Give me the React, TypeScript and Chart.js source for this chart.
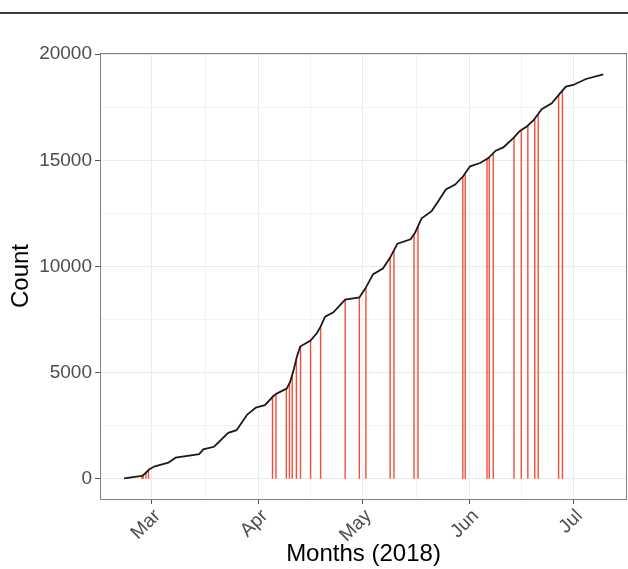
import React, { useEffect, useRef } from 'react';
import { Chart, registerables } from 'chart.js';

Chart.register(...registerables);

// x values are days counted from 1 March 2018 (day 0 = Mar 1)
const curveDays = [
  -7.9, -2.8, -2.05, -0.6, 1.0, 4.9, 7.0, 13.8, 15.0, 18.1, 22.2, 24.6, 27.7, 30.2, 32.8,
  35.2, 36.2, 39.1, 40.1, 41.2, 42.0, 43.0, 46.0, 47.8, 48.9, 50.2, 52.6, 56.0, 60.1, 61.9,
  64.1, 66.9, 69.0, 71.1, 74.9, 76.2, 78.1, 81.0, 82.9, 85.1, 87.8, 90.1, 92.1, 95.0, 97.4,
  99.5, 101.7, 104.6, 106.5, 108.5, 110.4, 112.8, 115.7, 118.1, 119.8, 121.9, 125.6, 130.6,
];
const curveCounts = [
  20, 131, 211, 446, 586, 755, 990, 1163, 1384, 1506, 2162, 2289, 3025, 3354, 3462,
  3884, 4011, 4245, 4555, 5183, 5727, 6229, 6510, 6852, 7167, 7636, 7837, 8433, 8541, 8982,
  9638, 9901, 10417, 11073, 11280, 11590, 12265, 12607, 13076, 13625, 13859, 14248, 14717, 14872, 15106,
  15453, 15608, 16044, 16382, 16593, 16875, 17405, 17686, 18155, 18469, 18549, 18830, 19046,
];

// red event markers
const eventDays = [
  -6.3, -2.8, -2.35, -1.6, -0.85, 35.0, 36.0, 39.0, 39.9, 40.7, 41.9, 43.1, 46.0, 48.9, 56.0,
  60.1, 62.0, 69.0, 70.1, 75.9, 77.05, 90.0, 90.7, 97.0, 97.65, 98.8, 104.8, 106.9, 108.8,
  110.8, 111.8, 117.7, 118.8,
];
const eventCounts = [
  55, 131, 180, 280, 410, 3850, 3985, 4240, 4500, 4900, 5650, 6245, 6510, 7167, 8435,
  8541, 9010, 10417, 10780, 11520, 11890, 14220, 14390, 15070, 15150, 15330, 16080, 16420, 16640,
  16960, 17180, 18080, 18280,
];

const monthLabels = ['Mar', 'Apr', 'May', 'Jun', 'Jul'];
const monthDays = [0, 31, 61, 92, 122];
const midMonthDays = [15.5, 46, 76.5, 107];
const countTicks = [0, 5000, 10000, 15000, 20000];
const countMinorTicks = [2500, 7500, 12500, 17500];

const FONT = "'Liberation Sans', Arial, Helvetica, sans-serif";

const panelBorder = {
  id: 'panelBorder',
  afterDatasetsDraw(chart: any) {
    const { ctx, chartArea: a } = chart;
    ctx.save();
    ctx.strokeStyle = '#7f7f7f';
    ctx.lineWidth = 1;
    ctx.strokeRect(Math.round(a.left) + 0.5, Math.round(a.top) + 0.5, Math.round(a.right - a.left) - 1, Math.round(a.bottom - a.top));
    ctx.restore();
  },
};

export default function App() {
  const ref = useRef<HTMLCanvasElement | null>(null);

  useEffect(() => {
    if (!ref.current) return;
    const curve = curveDays.map((d, i) => ({ x: d, y: curveCounts[i] }));
    const events: any[] = [];
    eventDays.forEach((d, i) => {
      events.push({ x: d, y: 0 }, { x: d, y: eventCounts[i] }, { x: d, y: null });
    });
    const majorX = new Set(monthDays);
    const majorY = new Set(countTicks);

    const chart = new Chart(ref.current, {
      type: 'line',
      data: {
        datasets: [
          {
            data: curve,
            borderColor: '#1a1a1a',
            borderWidth: 1.8,
            pointRadius: 0,
            tension: 0,
          },
          {
            data: events,
            borderColor: 'rgba(240,60,35,0.9)',
            borderWidth: 1.4,
            pointRadius: 0,
            spanGaps: false,
            tension: 0,
          },
        ],
      },
      plugins: [panelBorder],
      options: {
        animation: false,
        responsive: false,
        events: [],
        layout: { padding: { top: 53, right: 1, left: 0, bottom: 0 } },
        plugins: { legend: { display: false }, tooltip: { enabled: false } },
        scales: {
          x: {
            type: 'linear',
            min: -14.86,
            max: 137.46,
            afterBuildTicks: (s: any) => {
              s.ticks = [...monthDays, ...midMonthDays].sort((a, b) => a - b).map((v) => ({ value: v }));
            },
            afterFit: (s: any) => {
              s.height = 70;
            },
            border: { display: false },
            grid: {
              color: (c: any) => (majorX.has(c.tick?.value) ? '#ebebeb' : '#f3f3f3'),
              lineWidth: 1,
              tickColor: (c: any) => (majorX.has(c.tick?.value) ? '#555555' : 'rgba(0,0,0,0)'),
              tickLength: 5,
            },
            ticks: {
              autoSkip: false,
              minRotation: 45,
              maxRotation: 45,
              padding: 1,
              labelOffset: 6,
              color: '#4d4d4d',
              font: { family: FONT, size: 19 },
              callback: (v: any) => {
                const idx = monthDays.indexOf(Number(v));
                return idx >= 0 ? monthLabels[idx] : '';
              },
            },
            title: {
              display: true,
              text: 'Months (2018)',
              color: '#000000',
              font: { family: FONT, size: 24 },
              padding: { top: 0, bottom: 0 },
            },
          },
          y: {
            type: 'linear',
            min: -955,
            max: 20055,
            afterBuildTicks: (s: any) => {
              s.ticks = [...countTicks, ...countMinorTicks].sort((a, b) => a - b).map((v) => ({ value: v }));
            },
            afterFit: (s: any) => {
              s.width = 100;
            },
            border: { display: false },
            grid: {
              color: (c: any) => (majorY.has(c.tick?.value) ? '#ebebeb' : '#f3f3f3'),
              lineWidth: 1,
              tickColor: (c: any) => (majorY.has(c.tick?.value) ? '#555555' : 'rgba(0,0,0,0)'),
              tickLength: 5,
            },
            ticks: {
              autoSkip: false,
              padding: 3,
              color: '#4d4d4d',
              font: { family: FONT, size: 19 },
              callback: (v: any) => (majorY.has(Number(v)) ? String(v) : ''),
            },
            title: {
              display: true,
              text: 'Count',
              color: '#000000',
              font: { family: FONT, size: 24 },
              padding: { top: 7, bottom: 0 },
            },
          },
        },
      },
    } as any);
    return () => chart.destroy();
  }, []);

  return (
    <div style={{ position: 'absolute', left: 0, top: 0, width: 628, height: 569, background: '#ffffff' }}>
      <div style={{ position: 'absolute', left: 0, top: 12, width: 628, height: 1.5, background: '#3c3c3c' }} />
      <canvas ref={ref} width={628} height={569} style={{ position: 'absolute', left: 0, top: 0, width: 628, height: 569 }} />
    </div>
  );
}
